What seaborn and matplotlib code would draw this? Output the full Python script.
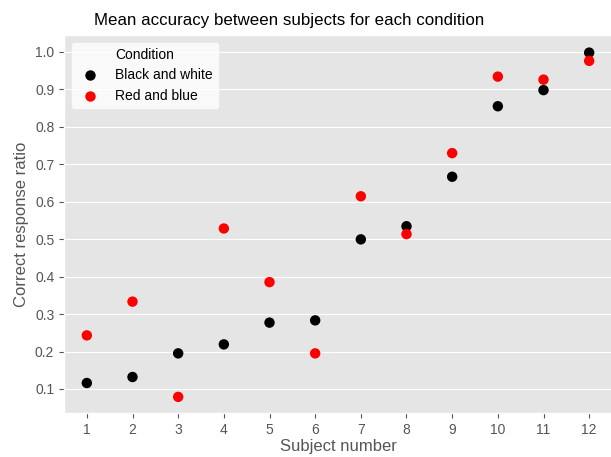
import matplotlib
matplotlib.use("Agg")
import matplotlib.pyplot as plt
import seaborn as sns
import pandas as pd

subjects = [str(i) for i in range(1, 13)]
black_white = [0.116, 0.132, 0.195, 0.219, 0.277, 0.283, 0.499, 0.534, 0.666, 0.854, 0.897, 0.997]
red_blue = [0.243, 0.333, 0.079, 0.528, 0.385, 0.195, 0.614, 0.513, 0.729, 0.933, 0.925, 0.975]
conditions = ["Black and white", "Red and blue"]
colors = ["black", "red"]

df = pd.DataFrame({
    "Subject number": subjects * 2,
    "Correct response ratio": black_white + red_blue,
    "Condition": [conditions[0]] * 12 + [conditions[1]] * 12,
})

plt.style.use("ggplot")
plt.rcParams["font.family"] = ["Liberation Sans", "DejaVu Sans"]

fig = plt.figure(figsize=(6.11, 4.57), dpi=100)
W, H = 611, 457
ax = fig.add_axes([64 / W, 1 - 413 / H, (612 - 64) / W, (413 - 35) / H])

sns.stripplot(data=df, x="Subject number", y="Correct response ratio", hue="Condition",
              palette=colors, jitter=False, size=7.5, linewidth=0, ax=ax, zorder=3)

ax.set_xlim(-0.5, 11.5)
ax.set_ylim(0.036, 1.044)
ax.set_yticks([0.1, 0.2, 0.3, 0.4, 0.5, 0.6, 0.7, 0.8, 0.9, 1.0])
ax.tick_params(labelsize=10, labelcolor="#555555", color="#555555")
ax.set_xlabel("Subject number", fontsize=12, color="#555555", labelpad=2)
ax.set_ylabel("Correct response ratio", fontsize=12, color="#555555")

leg = ax.legend(title="Condition", loc="upper left", fontsize=10, title_fontsize=10,
                frameon=True, markerscale=1.0)
leg.get_frame().set_facecolor("white")
leg.get_frame().set_alpha(0.8)
leg.get_frame().set_edgecolor("#e5e5e5")

fig.text(289 / W, 1 - 20 / H, "Mean accuracy between subjects for each condition",
         ha="center", va="center", fontsize=12.2, color="black")

fig.savefig("out.png", dpi=100)
